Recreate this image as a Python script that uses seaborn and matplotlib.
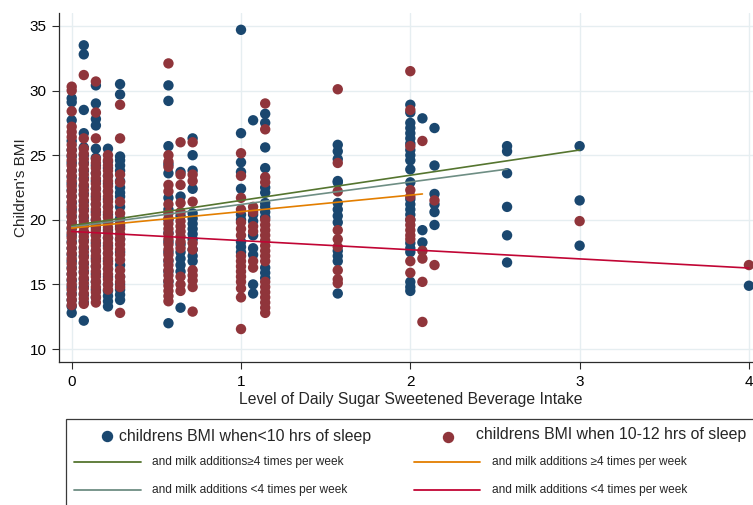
import numpy as np
import pandas as pd
import matplotlib
matplotlib.use("Agg")
import matplotlib.pyplot as plt
import seaborn as sns
from matplotlib.lines import Line2D
from matplotlib.patches import Rectangle

# ---------------- data ----------------
intake_levels = [0, 1/14, 2/14, 3/14, 4/14, 8/14, 9/14, 10/14, 1, 15/14, 16/14,
                 22/14, 2, 29/14, 30/14, 36/14, 3, 4]

# children's BMI, < 10 hrs of sleep (one list per intake level)
short_sleep_bmi = [
    [12.8, 13.3, 13.8, 14.3, 14.8, 15.3, 15.8, 16.3, 16.8, 17.3, 17.8, 18.3, 18.8, 19.3, 19.8,
     20.3, 20.8, 21.3, 21.8, 22.3, 22.8, 23.3, 23.8, 24.4, 24.9, 25.4, 26.1, 27.7, 29.1, 29.4],
    [12.2, 13.6, 14.2, 14.8, 15.4, 16.0, 16.6, 17.2, 17.8, 18.4, 19.0, 19.6, 20.2, 20.8, 21.4,
     22.0, 22.6, 23.2, 23.8, 24.4, 25.0, 25.6, 26.7, 28.5, 32.8, 33.5],
    [14.0, 14.6, 15.2, 15.8, 16.4, 17.0, 17.6, 18.2, 18.8, 19.4, 20.0, 20.6, 21.2, 21.8, 22.4,
     23.0, 23.6, 24.2, 24.8, 25.5, 27.3, 27.8, 29.0, 30.4],
    [13.3, 13.7, 14.1, 14.5, 15.0, 15.6, 16.2, 16.8, 17.4, 18.0, 18.6, 19.2, 19.8, 20.4, 21.0,
     21.6, 22.2, 22.8, 23.4, 24.0, 24.5, 25.5],
    [13.8, 14.2, 14.6, 15.0, 15.6, 16.5, 17.5, 18.5, 19.5, 20.1, 21.0, 21.8, 22.1, 22.5, 23.0,
     23.8, 24.2, 24.6, 24.9, 29.7, 30.5],
    [12.0, 15.2, 16.0, 16.8, 17.5, 18.3, 19.0, 20.0, 20.8, 21.7, 23.6, 24.3, 25.7, 29.2, 30.4],
    [13.2, 16.0, 16.5, 17.0, 17.5, 18.1, 20.3, 21.8, 23.7],
    [16.8, 17.2, 17.7, 18.5, 18.9, 19.3, 19.7, 20.1, 20.5, 22.4, 23.8, 25.0, 26.3],
    [17.5, 17.9, 18.3, 20.0, 20.4, 22.4, 23.7, 24.45, 26.7, 34.7],
    [14.3, 15.0, 17.3, 17.8, 18.8, 19.9, 20.4, 27.7],
    [15.5, 15.9, 16.3, 20.2, 20.6, 21.0, 21.3, 22.1, 22.5, 24.0, 25.6, 27.5, 28.2],
    [14.3, 16.8, 17.2, 17.6, 19.8, 20.3, 20.8, 21.3, 22.9, 23.0, 24.7, 25.3, 25.8],
    [14.5, 14.8, 15.2, 17.5, 17.8, 18.2, 20.0, 20.4, 20.8, 21.2, 21.6, 22.9, 23.9, 24.6, 25.0,
     25.4, 25.9, 26.3, 26.7, 27.1, 27.5, 28.3, 28.9],
    [18.25, 19.2, 27.85],
    [19.6, 20.6, 21.2, 22.0, 24.2, 27.1],
    [16.7, 18.8, 21.0, 23.6, 25.3, 25.7],
    [18.0, 21.5, 25.7],
    [14.9],
]

# children's BMI, 10-12 hrs of sleep (one list per intake level)
long_sleep_bmi = [
    [13.4, 13.8, 14.2, 14.6, 15.0, 15.4, 15.8, 16.2, 16.6, 17.0, 17.4, 17.8, 18.2, 18.6, 19.0,
     19.4, 19.8, 20.2, 20.6, 21.0, 21.4, 21.8, 22.2, 22.6, 23.0, 23.4, 23.8, 24.2, 24.6, 25.0,
     25.4, 25.8, 26.4, 26.8, 27.2, 28.4, 30.0, 30.3],
    [13.5, 13.9, 14.3, 14.7, 15.1, 15.5, 15.9, 16.3, 16.7, 17.1, 17.5, 17.9, 18.3, 18.7, 19.1,
     19.5, 19.9, 20.3, 20.7, 21.1, 21.5, 21.9, 22.3, 22.7, 23.1, 23.5, 23.9, 24.3, 24.7, 25.1,
     25.5, 26.3, 31.2],
    [13.6, 14.0, 14.4, 14.8, 15.2, 15.6, 16.0, 16.4, 16.8, 17.2, 17.6, 18.0, 18.4, 18.8, 19.2,
     19.6, 20.0, 20.4, 20.8, 21.2, 21.6, 22.0, 22.4, 22.8, 23.2, 23.6, 24.0, 24.4, 24.7, 26.3,
     28.3, 30.7],
    [14.6, 15.0, 15.4, 15.8, 16.2, 16.6, 17.0, 17.4, 17.8, 18.2, 18.6, 19.0, 19.4, 19.8, 20.2,
     20.6, 21.0, 21.4, 21.8, 22.2, 22.6, 23.0, 23.4, 23.8, 24.2, 24.6, 25.0],
    [12.8, 14.8, 15.2, 15.6, 16.1, 16.9, 17.3, 17.7, 18.1, 18.5, 18.9, 19.3, 19.7, 20.5, 21.4,
     22.9, 23.5, 26.3, 28.9],
    [13.7, 14.1, 14.5, 14.9, 15.3, 15.7, 16.1, 16.5, 16.9, 17.3, 17.7, 18.1, 18.5, 18.9, 19.3,
     19.7, 20.1, 20.5, 21.2, 22.2, 22.7, 24.1, 24.5, 25.0, 32.1],
    [14.5, 15.0, 15.6, 17.8, 18.3, 18.7, 19.1, 19.5, 19.9, 20.6, 21.3, 22.7, 23.5, 26.0],
    [12.9, 14.8, 15.3, 15.7, 16.1, 17.7, 18.2, 21.4, 23.0, 23.5, 26.0],
    [11.55, 14.0, 14.7, 15.2, 15.6, 16.0, 16.4, 16.8, 17.2, 18.8, 19.3, 19.8, 20.8, 21.7, 23.4,
     25.15],
    [16.3, 16.8, 19.1, 19.5, 20.6, 21.0],
    [12.8, 13.2, 13.6, 14.0, 14.4, 14.8, 15.2, 16.8, 17.2, 17.6, 18.0, 18.4, 18.8, 19.2, 19.6,
     20.0, 22.9, 23.3, 27.0, 29.0],
    [15.1, 15.4, 16.1, 17.9, 18.5, 19.2, 22.2, 24.4, 30.1],
    [15.9, 16.8, 18.5, 18.8, 19.2, 19.6, 20.0, 21.8, 22.3, 25.7, 28.5, 31.5],
    [12.1, 15.2, 17.0, 17.6, 26.1],
    [16.5, 21.5],
    [],
    [19.9],
    [16.5],
]

group_labels = ["childrens BMI when<10 hrs of sleep", "childrens BMI when 10-12 hrs of sleep"]

# fitted lines (end points)
fit_short_hi_x = [0, 3]
fit_short_hi_y = [19.55, 25.4]
fit_short_lo_x = [0, 36/14]
fit_short_lo_y = [19.45, 23.92]
fit_long_hi_x = [0, 29/14]
fit_long_hi_y = [19.36, 22.0]
fit_long_lo_x = [0, 4]
fit_long_lo_y = [19.1, 16.27]

line_labels = ["and milk additions\u22654 times per week",
               "and milk additions <4 times per week",
               "and milk additions \u22654 times per week",
               "and milk additions <4 times per week"]

# ---------------- styling ----------------
BLUE = "#1a476f"
MAROON = "#90353b"
GREEN = "#55752f"
TEAL = "#6e8e84"
ORANGE = "#e37e00"
RED = "#c10534"
GRID = "#e6eef1"
AXC = "#2b2b2b"

sns.set_theme(style="white")
plt.rcParams['font.family'] = ['Liberation Sans', 'DejaVu Sans']

rows = []
for grp, series in zip(group_labels, [short_sleep_bmi, long_sleep_bmi]):
    for lvl, vals in zip(intake_levels, series):
        for v in vals:
            rows.append((lvl, v, grp))
df = pd.DataFrame(rows, columns=["intake", "bmi", "group"])

W, H = 753, 505
fig = plt.figure(figsize=(W / 100, H / 100), dpi=100)
fig.patch.set_facecolor("white")
ax = fig.add_axes([59 / W, 1 - 362 / H, (753 - 59) / W, (362 - 13) / H])

sns.scatterplot(data=df, x="intake", y="bmi", hue="group", hue_order=group_labels,
                palette=[BLUE, MAROON], s=56, linewidth=0, alpha=1, legend=False,
                ax=ax, zorder=3)

for xs, ys, c in [(fit_short_hi_x, fit_short_hi_y, GREEN),
                  (fit_short_lo_x, fit_short_lo_y, TEAL),
                  (fit_long_hi_x, fit_long_hi_y, ORANGE),
                  (fit_long_lo_x, fit_long_lo_y, RED)]:
    sns.lineplot(x=xs, y=ys, color=c, lw=1.2, ax=ax, zorder=4)

ax.set_xlim(-0.075, 4.024)
ax.set_ylim(9, 36)
ax.set_xticks([0, 1, 2, 3, 4])
ax.set_yticks([10, 15, 20, 25, 30, 35])
ax.grid(True, color=GRID, lw=1.0, zorder=0)
ax.set_axisbelow(True)
for s in ["top", "right"]:
    ax.spines[s].set_visible(False)
for s in ["left", "bottom"]:
    ax.spines[s].set_color(AXC)
    ax.spines[s].set_linewidth(0.9)
ax.tick_params(axis="both", which="both", bottom=True, left=True, direction="out",
               length=5, width=0.8, color=AXC, labelsize=11, labelcolor="black", pad=4)
ax.set_xlabel("Level of Daily Sugar Sweetened Beverage Intake", fontsize=11.3)
ax.xaxis.set_label_coords(0.507, -0.085)
ax.set_ylabel("Children's BMI", fontsize=11, labelpad=1)

# ---------------- legend (drawn in figure coordinates) ----------------
def fx(px):
    return px / W

def fy(py):
    return 1 - py / H

fig.add_artist(Rectangle((fx(65.7), fy(560)), fx(760) - fx(65.7), fy(419) - fy(560),
                         transform=fig.transFigure, fill=False, ec="#3a3a3a", lw=0.9,
                         clip_on=False))

big = 11.4
small = 8.6
fig.add_artist(Line2D([fx(107)], [fy(436)], marker="o", ms=7.2, color=BLUE, mec=BLUE,
                      transform=fig.transFigure))
fig.text(fx(119), fy(436), group_labels[0], fontsize=big, va="center", ha="left")
fig.add_artist(Line2D([fx(448)], [fy(437)], marker="o", ms=7.2, color=MAROON, mec=MAROON,
                      transform=fig.transFigure))
fig.text(fx(476), fy(434), group_labels[1], fontsize=big, va="center", ha="left")

for (x0, x1, ty, c, lab, tx) in [(74, 141, 462, GREEN, line_labels[0], 152),
                                 (74, 141, 490, TEAL, line_labels[1], 152),
                                 (414, 480, 462, ORANGE, line_labels[2], 492),
                                 (414, 480, 490, RED, line_labels[3], 492)]:
    fig.add_artist(Line2D([fx(x0), fx(x1)], [fy(ty), fy(ty)], color=c, lw=1.3,
                          transform=fig.transFigure))
    fig.text(fx(tx), fy(ty), lab, fontsize=small, va="center", ha="left")

fig.savefig("out.png", dpi=100)
